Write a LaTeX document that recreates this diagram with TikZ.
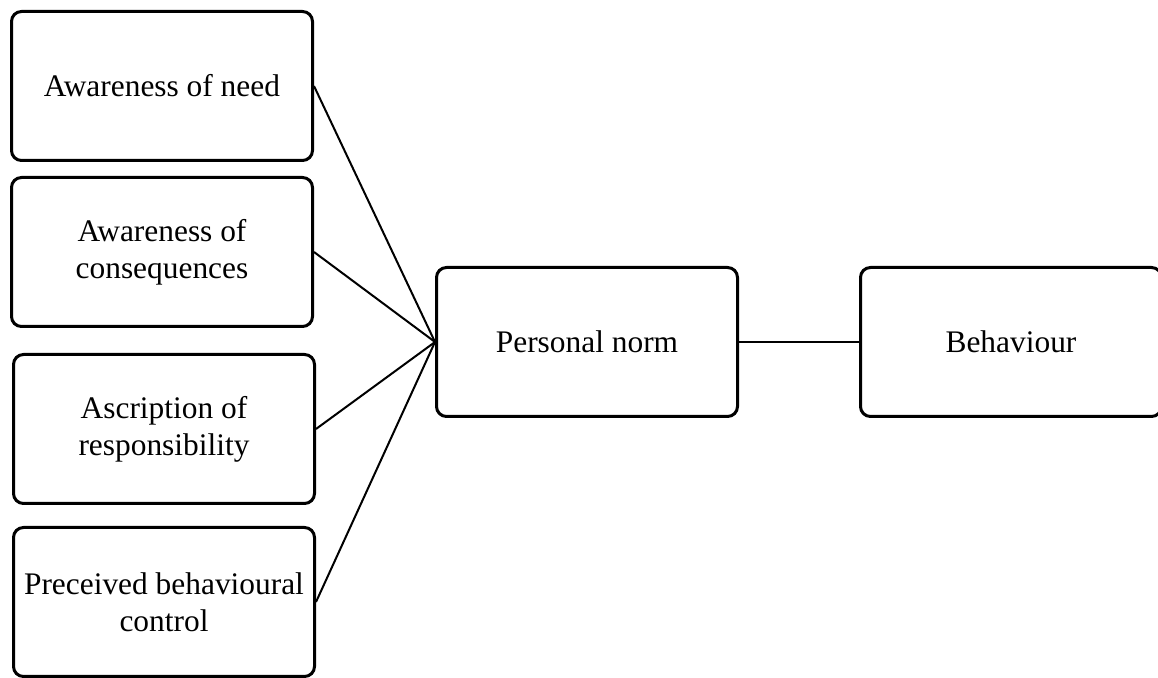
\documentclass[tikz,border=0pt]{standalone}
\usepackage{fontspec}
\setmainfont{Liberation Serif}
\usetikzlibrary{positioning}

\begin{document}
\begin{tikzpicture}[x=0.5pt,y=-0.5pt]
%one unit is one pixel of the 1158x678 page
\tikzstyle{box}=[draw, line width=1.5pt, rounded corners=5pt, minimum height=74.5pt, minimum width=150.5pt, align=center, inner sep=2pt, font=\fontsize{15.7}{18.5}\selectfont]
\useasboundingbox (0,0) rectangle (1158,678);
\node[box](A) at (162,86) {Awareness of need};
\node[box](B) at (162,252) {Awareness of\\consequences};
\node[box](C) at (164,429) {Ascription of\\responsibility};
\node[box](D) at (164,602) {Preceived behavioural\\control};
\node[box](E) at (587,342) {Personal norm};
\node[box](F) [right = 60pt of E] {Behaviour};
\draw[line width=1pt] (A.east) -- (E.west);
\draw[line width=1pt] (B.east) -- (E.west);
\draw[line width=1pt] (C.east) -- (E.west);
\draw[line width=1pt] (D.east) -- (E.west);
\draw[line width=1pt] (E) -- (F);
\end{tikzpicture}
\end{document}
